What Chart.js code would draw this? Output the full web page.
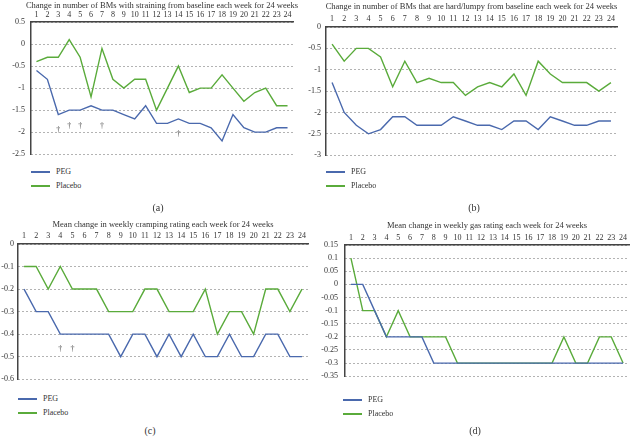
<!DOCTYPE html>
<html lang="en">
  <head>
    <meta charset="UTF-8" />
    <title>PEG vs Placebo weekly change</title>
    <script src="https://cdn.jsdelivr.net/npm/chart.js"></script>
    <style>
      body {
        margin: 0;
        background: #fff;
        font-family: "Liberation Serif", "DejaVu Serif", serif;
        color: #333;
      }
      .page {
        position: relative;
        width: 631px;
        height: 437px;
        overflow: hidden;
      }
      canvas {
        position: absolute;
      }
      .ttl {
        position: absolute;
        font-size: 8.5px;
        white-space: nowrap;
        transform: translate(-50%, -50%);
      }
      .leg {
        position: absolute;
        font-size: 8px;
        line-height: 10px;
      }
      .leg div {
        display: flex;
        align-items: center;
        height: 14px;
      }
      .leg span.ln {
        display: inline-block;
        width: 19px;
        height: 1.5px;
        margin-right: 6px;
      }
      .cap {
        position: absolute;
        font-size: 10px;
        transform: translate(-50%, -50%);
      }
    </style>
  </head>
  <body>
    <div class="page">
      <canvas id="chartA" width="315" height="165" style="left: 0; top: 0"></canvas>
      <canvas id="chartB" width="331" height="165" style="left: 300px; top: 0"></canvas>
      <canvas id="chartC" width="315" height="170" style="left: 0; top: 218px"></canvas>
      <canvas id="chartD" width="331" height="170" style="left: 300px; top: 218px"></canvas>

      <div class="ttl" id="titleA" style="top: 5px">Change in number of BMs with straining from baseline each week for 24 weeks</div>
      <div class="ttl" id="titleB" style="top: 6px">Change in number of BMs that are hard/lumpy from baseline each week for 24 weeks</div>
      <div class="ttl" id="titleC" style="top: 224px">Mean change in weekly cramping rating each week for 24 weeks</div>
      <div class="ttl" id="titleD" style="top: 225px">Mean change in weekly gas rating each week for 24 weeks</div>

      <div class="leg" style="left: 31px; top: 165px">
        <div><span class="ln" style="background: #4a69ad"></span>PEG</div>
        <div><span class="ln" style="background: #5aab3b"></span>Placebo</div>
      </div>
      <div class="leg" style="left: 326px; top: 165px">
        <div><span class="ln" style="background: #4a69ad"></span>PEG</div>
        <div><span class="ln" style="background: #5aab3b"></span>Placebo</div>
      </div>
      <div class="leg" style="left: 18px; top: 392px">
        <div><span class="ln" style="background: #4a69ad"></span>PEG</div>
        <div><span class="ln" style="background: #5aab3b"></span>Placebo</div>
      </div>
      <div class="leg" style="left: 343px; top: 393px">
        <div><span class="ln" style="background: #4a69ad"></span>PEG</div>
        <div><span class="ln" style="background: #5aab3b"></span>Placebo</div>
      </div>

      <div class="cap" style="left: 158px; top: 207px">(a)</div>
      <div class="cap" style="left: 474px; top: 207px">(b)</div>
      <div class="cap" style="left: 150px; top: 430px">(c)</div>
      <div class="cap" style="left: 475px; top: 430px">(d)</div>
    </div>

    <script>
      // weeks 1..24
      const weeks = [
        "1", "2", "3", "4", "5", "6", "7", "8", "9", "10", "11", "12",
        "13", "14", "15", "16", "17", "18", "19", "20", "21", "22", "23", "24",
      ];

      // (a) straining
      const pegA = [
        -0.6, -0.8, -1.6, -1.5, -1.5, -1.4, -1.5, -1.5, -1.6, -1.7, -1.4, -1.8,
        -1.8, -1.7, -1.8, -1.8, -1.9, -2.2, -1.6, -1.9, -2.0, -2.0, -1.9, -1.9,
      ];
      const placeboA = [
        -0.4, -0.3, -0.3, 0.1, -0.3, -1.2, -0.1, -0.8, -1.0, -0.8, -0.8, -1.5,
        -1.0, -0.5, -1.1, -1.0, -1.0, -0.7, -1.0, -1.3, -1.1, -1.0, -1.4, -1.4,
      ];
      const daggerWeeksA = ["3", "4", "5", "7", "14"];
      const daggerValsA = [-1.94, -1.85, -1.85, -1.85, -2.05];

      // (b) hard/lumpy
      const pegB = [
        -1.3, -2.0, -2.3, -2.5, -2.4, -2.1, -2.1, -2.3, -2.3, -2.3, -2.1, -2.2,
        -2.3, -2.3, -2.4, -2.2, -2.2, -2.4, -2.1, -2.2, -2.3, -2.3, -2.2, -2.2,
      ];
      const placeboB = [
        -0.4, -0.8, -0.5, -0.5, -0.7, -1.4, -0.8, -1.3, -1.2, -1.3, -1.3, -1.6,
        -1.4, -1.3, -1.4, -1.1, -1.6, -0.8, -1.1, -1.3, -1.3, -1.3, -1.5, -1.3,
      ];

      // (c) cramping
      const pegC = [
        -0.2, -0.3, -0.3, -0.4, -0.4, -0.4, -0.4, -0.4, -0.5, -0.4, -0.4, -0.5,
        -0.4, -0.5, -0.4, -0.5, -0.5, -0.4, -0.5, -0.5, -0.4, -0.4, -0.5, -0.5,
      ];
      const placeboC = [
        -0.1, -0.1, -0.2, -0.1, -0.2, -0.2, -0.2, -0.3, -0.3, -0.3, -0.2, -0.2,
        -0.3, -0.3, -0.3, -0.2, -0.4, -0.3, -0.3, -0.4, -0.2, -0.2, -0.3, -0.2,
      ];
      const daggerWeeksC = ["4", "5"];
      const daggerValsC = [-0.465, -0.465];

      // (d) gas
      const pegD = [
        0, 0, -0.1, -0.2, -0.2, -0.2, -0.2, -0.3, -0.3, -0.3, -0.3, -0.3,
        -0.3, -0.3, -0.3, -0.3, -0.3, -0.3, -0.3, -0.3, -0.3, -0.3, -0.3, -0.3,
      ];
      const placeboD = [
        0.1, -0.1, -0.1, -0.2, -0.1, -0.2, -0.2, -0.2, -0.2, -0.3, -0.3, -0.3,
        -0.3, -0.3, -0.3, -0.3, -0.3, -0.3, -0.2, -0.3, -0.3, -0.2, -0.2, -0.3,
      ];

      const blue = "#4a69ad";
      const green = "#5aab3b";
      const textCol = "#333";
      const font = "'Liberation Serif', 'DejaVu Serif', serif";

      // little † marks placed in data units
      function daggerPlugin(wks, vals) {
        return {
          id: "daggers",
          afterDatasetsDraw(chart) {
            const c = chart.ctx;
            c.save();
            c.fillStyle = "#555";
            c.font = "8px " + font;
            c.textAlign = "center";
            c.textBaseline = "middle";
            wks.forEach((w, i) => {
              const x = chart.scales.x.getPixelForValue(weeks.indexOf(w));
              const y = chart.scales.y.getPixelForValue(vals[i]);
              c.fillText("\u2020", x, y);
            });
            c.restore();
          },
        };
      }

      // box = wanted plot area inside the canvas [left, top, right, bottom]
      function makeChart(id, titleId, o) {
        const canvas = document.getElementById(id);
        const [L, T, R, B] = o.box;
        const chart = new Chart(canvas.getContext("2d"), {
          type: "line",
          data: {
            labels: weeks,
            datasets: [
              { label: "PEG", data: o.peg, borderColor: blue },
              { label: "Placebo", data: o.placebo, borderColor: green },
            ],
          },
          options: {
            responsive: false,
            animation: false,
            devicePixelRatio: 1,
            layout: {
              padding: { left: 0, top: 0, right: canvas.width - R, bottom: canvas.height - B },
            },
            elements: {
              line: { tension: 0, borderWidth: 1.4, fill: false },
              point: { radius: 0 },
            },
            plugins: {
              legend: { display: false },
              tooltip: { enabled: false },
              title: { display: false },
            },
            scales: {
              x: {
                position: "top",
                offset: true,
                grid: { display: false, drawTicks: false },
                border: { display: true, color: "#444", width: 1.5 },
                ticks: {
                  color: textCol,
                  padding: o.xPad,
                  maxRotation: 0,
                  autoSkip: false,
                  font: { family: font, size: 8 },
                },
                afterFit: (s) => {
                  s.height = T;
                },
              },
              y: {
                min: o.min,
                max: o.max,
                grid: { drawTicks: false, color: "#666", lineWidth: 1 },
                border: { display: true, color: "#444", width: 1.5, dash: [1, 3] },
                ticks: {
                  stepSize: o.step,
                  color: textCol,
                  padding: o.yPad,
                  font: { family: font, size: 8 },
                  callback: (v) => String(Math.round(v * 100) / 100),
                },
                afterFit: (s) => {
                  s.width = L;
                },
              },
            },
          },
          plugins: o.daggers ? [daggerPlugin(o.daggers[0], o.daggers[1])] : [],
        });

        // nudge the layout padding until the plot area sits where wanted
        for (let k = 0; k < 3; k++) {
          const ca = chart.chartArea;
          const p = chart.options.layout.padding;
          p.top += T - ca.top;
          p.left += L - ca.left;
          p.right += ca.right - R;
          p.bottom += ca.bottom - B;
          chart.update("none");
        }

        const ca = chart.chartArea;
        const t = document.getElementById(titleId);
        t.style.left = canvas.offsetLeft + (ca.left + ca.right) / 2 + "px";
        return chart;
      }

      makeChart("chartA", "titleA", {
        peg: pegA,
        placebo: placeboA,
        min: -2.5,
        max: 0.5,
        step: 0.5,
        box: [31, 22, 293, 155],
        xPad: 2.2,
        yPad: 6,
        daggers: [daggerWeeksA, daggerValsA],
      });

      makeChart("chartB", "titleB", {
        peg: pegB,
        placebo: placeboB,
        min: -3,
        max: 0,
        step: 0.5,
        box: [26, 27, 317, 156],
        xPad: 3.2,
        yPad: 5,
      });

      makeChart("chartC", "titleC", {
        peg: pegC,
        placebo: placeboC,
        min: -0.6,
        max: 0,
        step: 0.1,
        box: [18, 26, 308, 164],
        xPad: 3.2,
        yPad: 4,
        daggers: [daggerWeeksC, daggerValsC],
      });

      makeChart("chartD", "titleD", {
        peg: pegD,
        placebo: placeboD,
        min: -0.35,
        max: 0.15,
        step: 0.05,
        box: [45, 27, 329, 164],
        xPad: 2.2,
        yPad: 7,
      });
    </script>
  </body>
</html>
